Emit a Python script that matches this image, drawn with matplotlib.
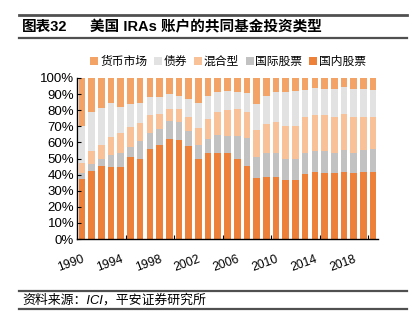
import numpy as np
import matplotlib
matplotlib.use('Agg')
import matplotlib.pyplot as plt
from matplotlib.lines import Line2D
from matplotlib.ticker import FixedLocator, PercentFormatter

plt.rcParams['font.family'] = ['Liberation Sans', 'Noto Sans CJK SC', 'DejaVu Sans']

years = list(range(1990, 2021))

# cumulative tops (%), bottom to top
domestic = [37.3, 42.5, 45.4, 44.8, 44.8, 50.8, 50.0, 56.0, 58.1, 62.0, 61.4,
            57.5, 50.0, 53.7, 53.7, 53.7, 49.4, 45.4, 38.0, 38.8, 38.8,
            36.5, 36.5, 40.2, 41.7, 41.1, 41.1, 41.7, 41.1, 41.7, 41.7]
intl_top = [41.3, 46.7, 49.4, 52.1, 53.5, 57.3, 60.6, 66.0, 68.3, 73.2, 72.6,
            67.2, 58.1, 62.4, 64.3, 64.1, 64.1, 62.7, 50.8, 53.5, 53.5,
            49.8, 49.4, 53.5, 54.4, 54.4, 53.5, 55.2, 53.5, 55.2, 56.0]
mixed_top = [47.5, 54.4, 58.1, 63.5, 66.0, 69.7, 71.8, 77.0, 77.8, 80.5, 80.5,
             75.9, 68.7, 74.7, 78.8, 79.9, 80.7, 79.0, 68.0, 71.2, 72.6,
             70.3, 70.3, 75.5, 77.0, 77.0, 75.9, 77.8, 75.5, 75.9, 75.5]
bond_top = [70.1, 78.6, 81.5, 84.6, 82.2, 83.6, 84.6, 88.2, 88.2, 89.8, 89.0,
            86.7, 84.4, 89.0, 91.3, 91.9, 91.3, 90.5, 83.6, 89.0, 91.1,
            91.1, 91.9, 92.7, 93.6, 93.4, 93.4, 94.2, 93.4, 93.4, 92.7]

dom = np.array(domestic)
intl = np.array(intl_top) - dom
mixed = np.array(mixed_top) - np.array(intl_top)
bond = np.array(bond_top) - np.array(mixed_top)
money = 100 - np.array(bond_top)

names = ['货币市场', '债券', '混合型', '国际股票', '国内股票']
colors = {'货币市场': '#F4A366', '债券': '#E2E2E2', '混合型': '#F8C197',
          '国际股票': '#C2C2C2', '国内股票': '#EE8139'}

fig = plt.figure(figsize=(4.12, 3.24), dpi=100)
ax = fig.add_axes([77 / 412, 1 - 239 / 324, 301 / 412, 161 / 324])

x = np.arange(len(years))
w = 0.68
stack = [('国内股票', dom), ('国际股票', intl), ('混合型', mixed),
         ('债券', bond), ('货币市场', money)]
bottom = np.zeros(len(years))
for name, vals in stack:
    ax.bar(x, vals, w, bottom=bottom, color=colors[name], linewidth=0)
    bottom += vals

ax.set_xlim(-0.5, len(years) - 0.5)
ax.set_ylim(0, 100)
ax.yaxis.set_major_locator(FixedLocator(np.arange(0, 101, 10)))
ax.yaxis.set_major_formatter(PercentFormatter(decimals=0))
ax.tick_params(axis='y', direction='in', length=3, width=0.8, labelsize=9.5, pad=2)

ax.set_xticks(x[::4])
ax.set_xticklabels([str(y) for y in years[::4]], rotation=20, ha='right',
                   rotation_mode='anchor', fontsize=8.8)
ax.tick_params(axis='x', which='major', length=0, pad=10)
ax.xaxis.set_minor_locator(FixedLocator(np.arange(4.5, len(years), 5)))
ax.tick_params(axis='x', which='minor', direction='in', length=3, width=0.8)

for s in ['top', 'right']:
    ax.spines[s].set_visible(False)
for s in ['left', 'bottom']:
    ax.spines[s].set_linewidth(1.0)
    ax.spines[s].set_color('black')

handles = [Line2D([], [], marker='s', linestyle='none', markersize=6,
                  markerfacecolor=colors[n], markeredgewidth=0) for n in names]
fig.legend(handles, names, loc='center', bbox_to_anchor=(228 / 412, 1 - 62 / 324),
           ncol=5, frameon=False, fontsize=8.5, handlelength=0.7,
           handletextpad=0.15, columnspacing=0.55, borderaxespad=0)

# header and footer
for y, lw in [(15, 2.0), (38, 1.6), (291, 1.6), (309, 1.6)]:
    fig.add_artist(Line2D([19 / 412, 407 / 412], [1 - y / 324, 1 - y / 324],
                          color='#505050', linewidth=lw))
fig.text(22 / 412, 1 - 27 / 324, '图表32', fontsize=10.5, fontweight='bold',
         va='center', ha='left')
fig.text(90 / 412, 1 - 27 / 324, '美国 IRAs 账户的共同基金投资类型', fontsize=10.5,
         fontweight='bold', va='center', ha='left')
fig.text(22 / 412, 1 - 300 / 324, '资料来源：ICI，平安证券研究所', fontsize=9.3,
         style='italic', va='center', ha='left')

fig.savefig('out.png', dpi=100)
